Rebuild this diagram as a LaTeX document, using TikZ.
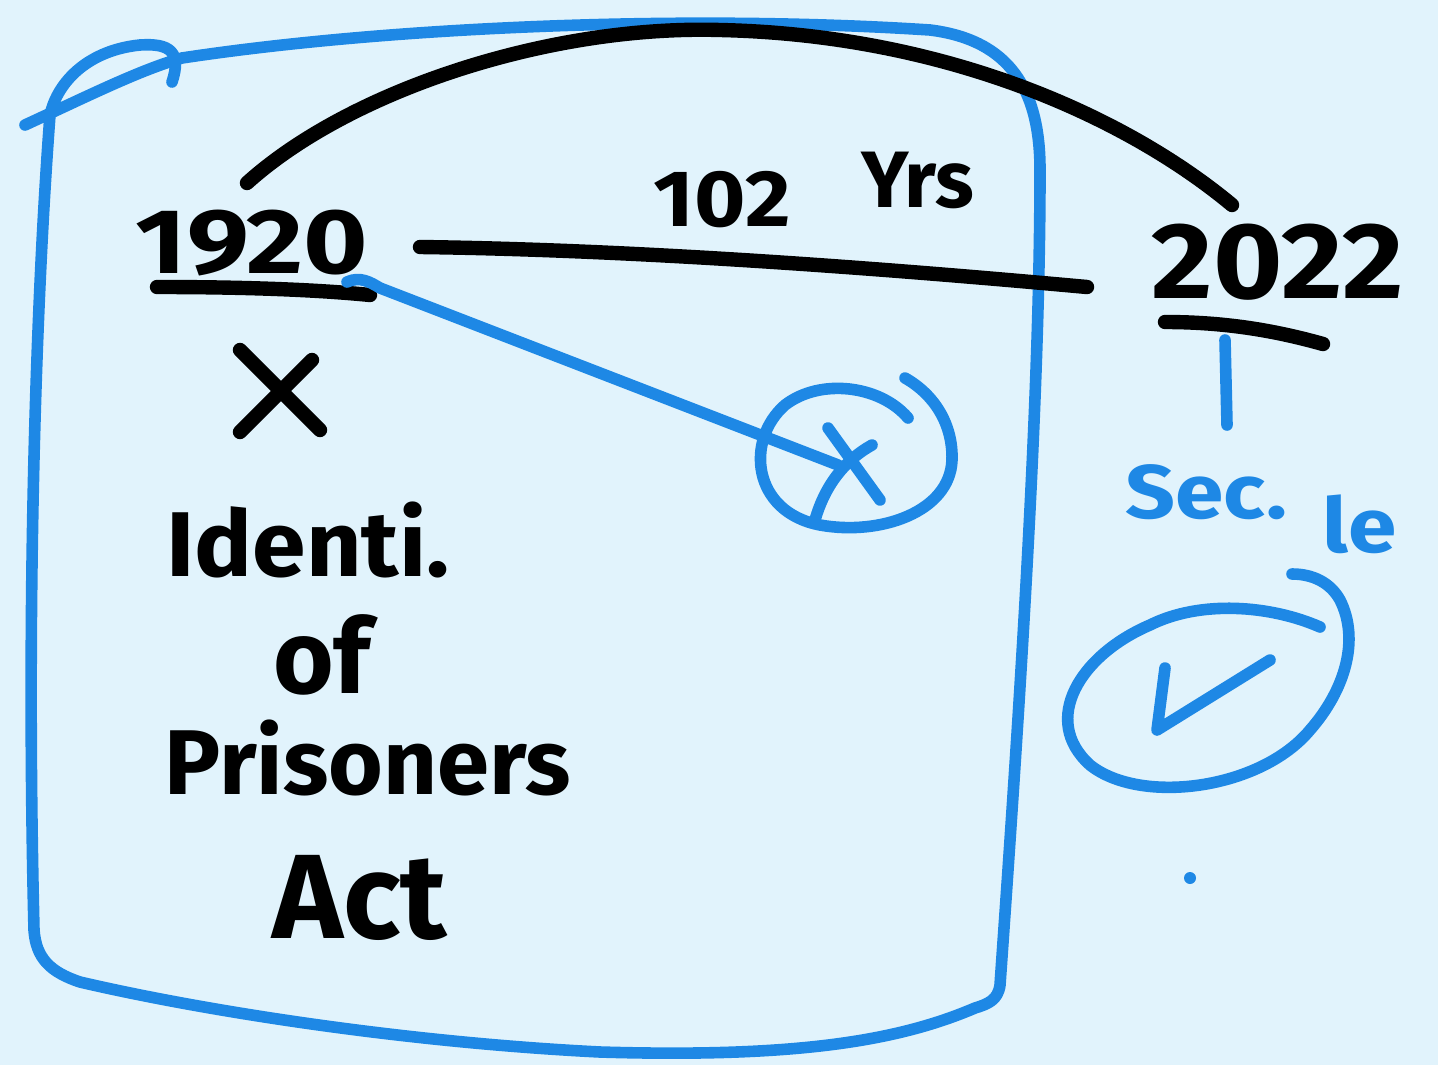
\documentclass[tikz,border=0pt]{standalone}
\usepackage{fontspec}
\setmainfont{Fira Sans}
\definecolor{bg}{RGB}{225,243,252}
\definecolor{bluepen}{RGB}{30,136,229}
\begin{document}
\begin{tikzpicture}[x=0.5pt,y=-0.5pt,line cap=round,line join=round,
  ink/.style={draw=black,line width=7.2pt},
  bink/.style={draw=bluepen,line width=5.8pt},
  hw/.style={inner sep=0pt,font=\bfseries\fontsize{#1}{#1}\selectfont},
  hw/.default=46]
\fill[bg] (0,0) rectangle (1438,1065);
\useasboundingbox (0,0) rectangle (1438,1065);

% blue frame
\draw[bink] (25,125) .. controls (90,95) and (140,70) .. (182,58)
  .. controls (400,25) and (700,15) .. (930,30)
  .. controls (1010,40) and (1040,90) .. (1040,170)
  .. controls (1040,400) and (1020,700) .. (1000,985)
  .. controls (998,1000) and (988,1004) .. (975,1008)
  .. controls (900,1040) and (800,1058) .. (600,1052)
  .. controls (400,1042) and (200,1010) .. (80,982)
  .. controls (50,972) and (36,958) .. (34,930)
  .. controls (26,600) and (36,300) .. (50,115)
  .. controls (58,80) and (90,50) .. (140,45)
  .. controls (170,43) and (182,52) .. (172,82);

% black arc and timeline
\coordinate (arcA) at (247,183);
\coordinate (arcB) at (1232,205);
\draw[ink] (arcA) .. controls (350,90) and (550,25) .. (720,30)
  .. controls (950,35) and (1130,120) .. (arcB);

\node[hw=46,xscale=1.2] (y1920) at (252,243) {1920};
\node[hw=54,xscale=1.1] (y2022) at (1278,262) {2022};
\coordinate (tlA) at (420,247);
\coordinate (tlB) at (1087,287);
\draw[ink] (tlA) .. controls (650,250) and (900,270) .. (tlB);

\node[hw=40,xscale=1.1] (n102) at (722,200) {102};
\node[hw=40] (yrs) at (918,180) {Yrs};

% underlines
\coordinate (u1a) at (157,287); \coordinate (u1b) at (370,295);
\draw[ink] (u1a) .. controls (250,287) and (320,290) .. (u1b);
\coordinate (u2a) at (1165,322); \coordinate (u2b) at (1323,344);
\draw[ink] (u2a) .. controls (1230,322) and (1280,332) .. (u2b);

% blue tick under 2022
\coordinate (tickA) at (1225,340); \coordinate (tickB) at (1227,425);
\draw[bink] (tickA) -- (tickB);

% black X
\draw[ink] (240,350) -- (320,430);
\draw[ink] (312,360) -- (240,432);

% left text
\node[hw=46,xscale=1.05] (ident) at (308,540) {Identi.};
\node[hw=52] (of) at (322,655) {of};
\node[hw=46,xscale=1.02] (pris) at (368,758) {Prisoners};
\node[hw=60] (act) at (360,898) {Act};

% circled X
\coordinate (cstart) at (347,282);
\coordinate (cend) at (838,465);
\draw[bink] (cstart) .. controls (360,276) and (370,282) .. (380,288) -- (cend);
\draw[bink] (908,418) .. controls (880,385) and (820,378) .. (785,405)
  .. controls (745,440) and (752,512) .. (820,525)
  .. controls (880,536) and (950,512) .. (952,460)
  .. controls (953,425) and (935,395) .. (905,378);
\draw[bink] (828,428) -- (880,500);
\draw[bink] (815,520) .. controls (825,485) and (845,460) .. (872,445);

% Sec. le
\node[hw=38,text=bluepen,xscale=1.15,anchor=base west] (sec) at (1125,518) {Sec.};
\node[hw=38,text=bluepen,xscale=1.15,anchor=base west] (secn) at (1322,552) {le};

% circled check
\draw[bink] (1320,627) .. controls (1270,605) and (1200,600) .. (1150,625)
  .. controls (1080,655) and (1040,720) .. (1090,765)
  .. controls (1140,805) and (1260,790) .. (1310,730)
  .. controls (1345,690) and (1360,640) .. (1340,600)
  .. controls (1330,582) and (1312,574) .. (1292,574);
\draw[bink] (1165,668) -- (1157,730) -- (1270,660);

\fill[bluepen] (1190,878) circle (6);
\end{tikzpicture}
\end{document}
